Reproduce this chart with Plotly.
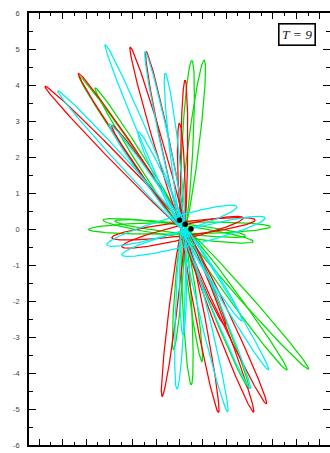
import numpy as np
import plotly.graph_objects as go

# ---------------- data (axis units) ----------------
center = (0.16, 0.03)

# petal loops: tip positions and half widths (px)
red_tip_x = [-5.76, -4.33, -2.90, -2.11, -1.43, 0.24, 0.00, 1.96, 3.72, 3.17, 1.67, -0.75]
red_tip_y = [3.97, 4.33, 2.89, 5.06, 4.93, 4.14, 2.94, -2.69, -4.86, -5.09, -5.10, -4.66]
red_tip_w = [4.5, 4.5, 4.5, 4.5, 4.5, 3.5, 3.5, 4.5, 5, 5, 4.5, 4]

green_tip_x = [-4.30, -3.61, 0.53, 1.06, 5.53, 4.60, 2.96, 0.50, 0.96, -0.26]
green_tip_y = [4.25, 3.92, 4.68, 4.69, -3.90, -3.92, -4.43, -4.33, -3.69, -3.36]
green_tip_w = [4.5, 4.5, 5.5, 5.5, 5, 5, 4.5, 4.5, 3.5, 3.5]

cyan_tip_x = [-5.21, -3.18, -1.47, -0.61, -3.01, -1.76, 3.81, 3.03, 2.67, 2.06, -0.11, 0.15]
cyan_tip_y = [3.84, 5.13, 4.93, 4.33, 2.92, 2.70, -3.92, -4.44, -2.55, -5.08, -4.45, -2.94]
cyan_tip_w = [4.5, 4.5, 4.5, 4.5, 4.5, 4.5, 4.5, 4.5, 4.5, 4.5, 4.5, 3.5]

# near-horizontal full loops: both ends and half widths (px)
red_h_x1 = [-2.90, -2.47]
red_h_y1 = [-0.24, -0.49]
red_h_x2 = [3.24, 2.73]
red_h_y2 = [0.25, 0.31]
red_h_w = [7, 7]

green_h_x1 = [-3.89, -3.27, -2.76]
green_h_y1 = [-0.01, 0.25, 0.22]
green_h_x2 = [3.89, 3.16, 2.82]
green_h_y2 = [0.06, -0.35, -0.19]
green_h_w = [6, 6, 5]

cyan_h_x1 = [-3.11, -2.47]
cyan_h_y1 = [-0.44, -0.72]
cyan_h_x2 = [2.46, 3.67]
cyan_h_y2 = [0.62, 0.31]
cyan_h_w = [8, 8]

body_x = [0.00, 0.24, 0.49]
body_y = [0.24, 0.13, 0.00]

y_ticks = [6, 5, 4, 3, 2, 1, 0, -1, -2, -3, -4, -5, -6]
y_labels = ["6", "5", "4", "3", "2", "1", "0", "-1", "-2", "-3", "-4", "-5", "-6"]
x_ticks = list(range(-6, 7))
label_text = "T = 9"

# ---------------- geometry helpers ----------------
SX, SY = 23.33, 36.0  # px per unit on x and y


def loop(x1, y1, x2, y2, w, n=240):
    u1, v1, u2, v2 = x1 * SX, y1 * SY, x2 * SX, y2 * SY
    cu, cv = (u1 + u2) / 2, (v1 + v2) / 2
    du, dv = u2 - u1, v2 - v1
    L = np.hypot(du, dv)
    a = L / 2
    du, dv = du / L, dv / L
    nu, nv = -dv, du
    t = np.linspace(0, 2 * np.pi, n)
    u = cu + a * np.cos(t) * du + w * np.sin(t) * nu
    v = cv + a * np.cos(t) * dv + w * np.sin(t) * nv
    return list(u / SX) + [None], list(v / SY) + [None]


def petals(tx, ty, tw):
    xs, ys = [], []
    cx, cy = center
    for x, y, w in zip(tx, ty, tw):
        bx, by = cx - 0.05 * (x - cx), cy - 0.05 * (y - cy)
        a, b = loop(bx, by, x, y, w)
        xs += a
        ys += b
    return xs, ys


def fulls(x1, y1, x2, y2, ws):
    xs, ys = [], []
    for a1, b1, a2, b2, w in zip(x1, y1, x2, y2, ws):
        a, b = loop(a1, b1, a2, b2, w)
        xs += a
        ys += b
    return xs, ys


fig = go.Figure()
colors = {"red": "#ff0000", "green": "#00e000", "cyan": "#00f0f0"}
sets = [
    ("green", (green_tip_x, green_tip_y, green_tip_w), (green_h_x1, green_h_y1, green_h_x2, green_h_y2, green_h_w)),
    ("red", (red_tip_x, red_tip_y, red_tip_w), (red_h_x1, red_h_y1, red_h_x2, red_h_y2, red_h_w)),
    ("cyan", (cyan_tip_x, cyan_tip_y, cyan_tip_w), (cyan_h_x1, cyan_h_y1, cyan_h_x2, cyan_h_y2, cyan_h_w)),
]
for name, p, h in sets:
    px, py = petals(*p)
    hx, hy = fulls(*h)
    fig.add_trace(go.Scatter(x=px + hx, y=py + hy, mode="lines",
                             line=dict(color=colors[name], width=1.25),
                             hoverinfo="skip", showlegend=False))

fig.add_trace(go.Scatter(x=body_x, y=body_y, mode="markers",
                         marker=dict(color="black", size=5.5), showlegend=False))

# invisible trace that carries the top / right tick axes
fig.add_trace(go.Scatter(x=[None], y=[None], xaxis="x2", yaxis="y2",
                         mode="markers", showlegend=False, hoverinfo="skip"))

XR = [-6.44, 6.44]
YR = [-6, 6]
minor_x = dict(ticks="inside", ticklen=3.5, dtick=0.5, tick0=0, tickwidth=1.2, tickcolor="black")
minor_y = dict(ticks="inside", ticklen=4, dtick=0.5, tick0=0, tickwidth=1.2, tickcolor="black")

fig.update_layout(
    width=330, height=453,
    margin=dict(l=29, r=0, t=13, b=8),
    paper_bgcolor="white", plot_bgcolor="white",
    showlegend=False,
    xaxis=dict(range=XR, tickvals=x_ticks, showticklabels=False,
               ticks="inside", ticklen=6, tickwidth=1.3, tickcolor="black", minor=minor_x,
               showline=True, linecolor="black", linewidth=1.8, mirror=False,
               showgrid=False, zeroline=False, fixedrange=True),
    xaxis2=dict(range=XR, tickvals=x_ticks, showticklabels=False, overlaying="x", side="top",
                ticks="inside", ticklen=6, tickwidth=1.3, tickcolor="black", minor=minor_x,
                showline=True, linecolor="black", linewidth=1.8,
                showgrid=False, zeroline=False, fixedrange=True),
    yaxis=dict(range=YR, tickvals=y_ticks, ticktext=y_labels,
               ticks="inside", ticklen=7, tickwidth=1.3, tickcolor="black", minor=minor_y,
               showline=True, linecolor="black", linewidth=1.8, mirror=False,
               tickfont=dict(family="Liberation Sans, Arial", size=7.5, color="#444"),
               ticklabelstandoff=6,
               showgrid=False, zeroline=False, fixedrange=True),
    yaxis2=dict(range=YR, tickvals=y_ticks, showticklabels=False, overlaying="y", side="right",
                ticks="inside", ticklen=7, tickwidth=1.3, tickcolor="black", minor=minor_y,
                showline=False, showgrid=False, zeroline=False, fixedrange=True),
    annotations=[dict(text="<i>" + label_text + "</i>", xref="paper", yref="paper",
                      x=(297 - 29) / 301, y=1 - (34.5 - 13) / 432,
                      xanchor="center", yanchor="middle", showarrow=False,
                      font=dict(family="Liberation Serif, Times New Roman", size=13.5, color="#222"),
                      bordercolor="black", borderwidth=1.6, borderpad=2.5, bgcolor="white")],
)

fig.write_html("out.html")
